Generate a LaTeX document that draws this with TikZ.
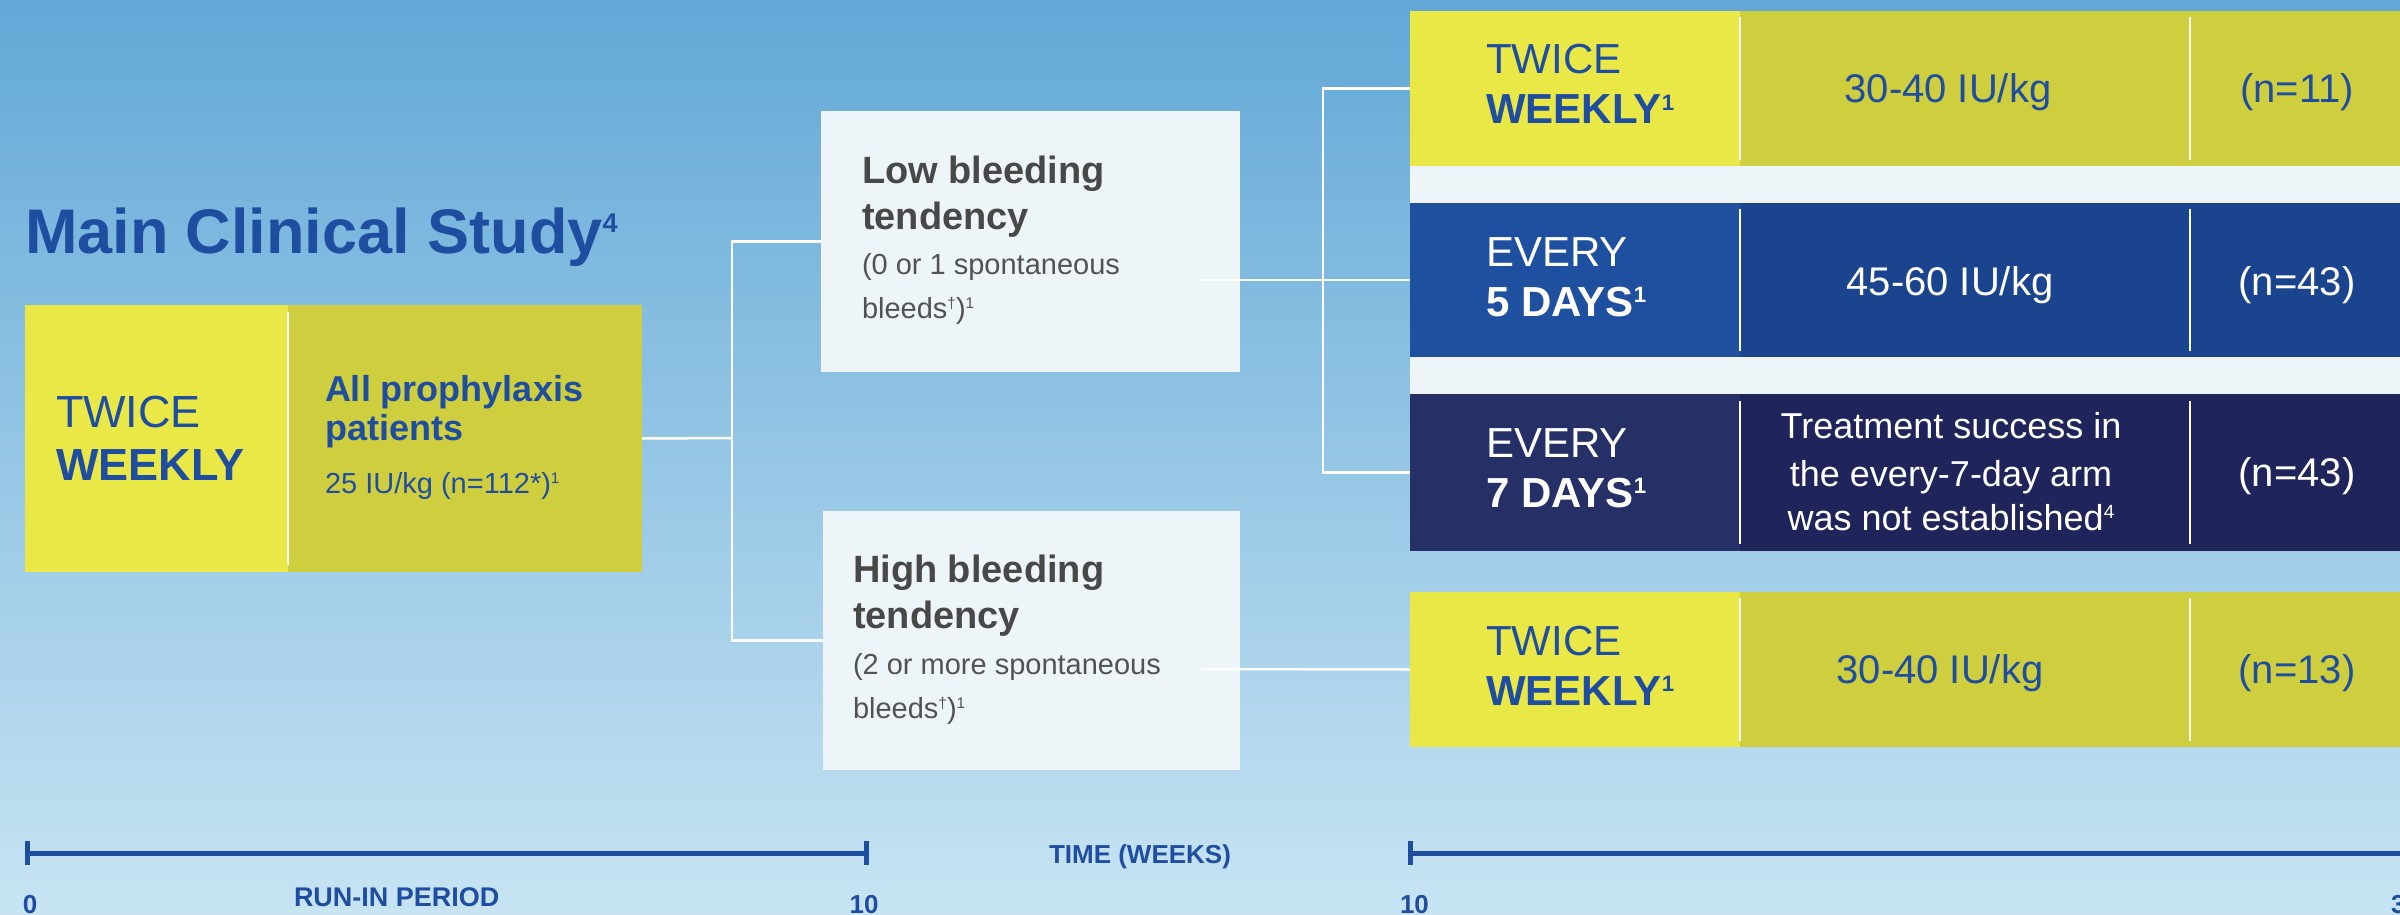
\documentclass[tikz,border=0pt]{standalone}
\usepackage{fontspec}
\setmainfont{Liberation Sans}
\usetikzlibrary{calc}
\definecolor{txtblue}{RGB}{31,78,161}
\definecolor{yel}{RGB}{233,232,70}
\definecolor{olive}{RGB}{207,206,63}
\definecolor{blueA}{RGB}{31,80,160}
\definecolor{blueB}{RGB}{27,68,142}
\definecolor{navyA}{RGB}{36,48,102}
\definecolor{navyB}{RGB}{31,37,90}
\definecolor{panel}{RGB}{237,245,248}
\definecolor{boxlight}{RGB}{238,245,249}
\definecolor{graybold}{RGB}{72,72,72}
\definecolor{grayreg}{RGB}{82,82,82}
\definecolor{bgtop}{RGB}{98,168,215}
\definecolor{bgmid}{RGB}{128,191,228}
\definecolor{bgbot}{RGB}{200,228,243}
\newcommand{\fs}[1]{\fontsize{#1}{#1}\selectfont}
\newcommand{\sups}[1]{\raisebox{0.33em}{\scalebox{0.53}{#1}}}
\newcommand{\supt}[1]{\raisebox{0.33em}{\scalebox{0.43}{#1}}}
\begin{document}
\begin{tikzpicture}[x=1pt,y=-1pt,
  cell/.style={inner sep=0pt, outer sep=0pt, anchor=north west},
  lbl/.style={inner sep=0pt, outer sep=0pt, anchor=base west},
  clbl/.style={inner sep=0pt, outer sep=0pt, anchor=base},
  conn/.style={draw=white, line width=2.5pt},
  divider/.style={draw=white, line width=2pt},
  tline/.style={draw=txtblue, line width=5pt}]
\clip (0,0) rectangle (2400,915);
\shade[top color=bgtop, middle color=bgmid, bottom color=bgbot] (0,0) rectangle (2400,915);

% ---------- title ----------
\node[lbl, text=txtblue, font=\bfseries\fs{63}] (title) at (25,253) {Main Clinical Study\supt{4}};

% ---------- left box ----------
\node[cell, fill=olive, minimum width=617pt, minimum height=267pt] (leftbox) at (25,305) {};
\node[cell, fill=yel, minimum width=263pt, minimum height=267pt] (leftA) at (25,305) {};
\draw[divider] (288,312) -- (288,565);
\node[lbl, text=txtblue, font=\fs{45}] (lt1) at (56,427) {TWICE};
\node[lbl, text=txtblue, font=\bfseries\fs{45}] (lt2) at (56,480) {WEEKLY};
\node[lbl, text=txtblue, font=\bfseries\fs{36}] (lt3) at (325,401) {All prophylaxis};
\node[lbl, text=txtblue, font=\bfseries\fs{36}] (lt4) at (325,440) {patients};
\node[lbl, text=txtblue, font=\fs{29}] (lt5) at (325,493) {25 IU/kg (n=112*)\sups{1}};

% ---------- middle boxes ----------
\node[cell, fill=boxlight, minimum width=419pt, minimum height=261pt] (low) at (821,111) {};
\node[cell, fill=boxlight, minimum width=417pt, minimum height=259pt] (high) at (823,511) {};
\node[lbl, text=graybold, font=\bfseries\fs{38}] (lo1) at (862,183) {Low bleeding};
\node[lbl, text=graybold, font=\bfseries\fs{38}] (lo2) at (862,229) {tendency};
\node[lbl, text=grayreg, font=\fs{29}] (lo3) at (862,274) {(0 or 1 spontaneous};
\node[lbl, text=grayreg, font=\fs{29}] (lo4) at (862,318) {bleeds\sups{\textdagger})\sups{1}};
\node[lbl, text=graybold, font=\bfseries\fs{38}] (hi1) at (853,582) {High bleeding};
\node[lbl, text=graybold, font=\bfseries\fs{38}] (hi2) at (853,628) {tendency};
\node[lbl, text=grayreg, font=\fs{29}] (hi3) at (853,674) {(2 or more spontaneous};
\node[lbl, text=grayreg, font=\fs{29}] (hi4) at (853,718) {bleeds\sups{\textdagger})\sups{1}};

% ---------- right boxes ----------
\node[cell, fill=panel, minimum width=995pt, minimum height=540pt] (panelbg) at (1410,11) {};
% box 1
\node[cell, fill=olive, minimum width=995pt, minimum height=155pt] (b1) at (1410,11) {};
\node[cell, fill=yel, minimum width=330pt, minimum height=155pt] (b1a) at (1410,11) {};
\draw[divider] (1740,17) -- (1740,160);
\draw[divider] (2190,17) -- (2190,160);
% box 2
\node[cell, fill=blueB, minimum width=995pt, minimum height=154pt] (b2) at (1410,203) {};
\node[cell, fill=blueA, minimum width=330pt, minimum height=154pt] (b2a) at (1410,203) {};
\draw[divider] (1740,209) -- (1740,351);
\draw[divider] (2190,209) -- (2190,351);
% box 3
\node[cell, fill=navyB, minimum width=995pt, minimum height=157pt] (b3) at (1410,394) {};
\node[cell, fill=navyA, minimum width=330pt, minimum height=157pt] (b3a) at (1410,394) {};
\draw[divider] (1740,401) -- (1740,544);
\draw[divider] (2190,401) -- (2190,544);
% box 4
\node[cell, fill=olive, minimum width=995pt, minimum height=155pt] (b4) at (1410,592) {};
\node[cell, fill=yel, minimum width=330pt, minimum height=155pt] (b4a) at (1410,592) {};
\draw[divider] (1740,598) -- (1740,741);
\draw[divider] (2190,598) -- (2190,741);

% box texts
\node[lbl, text=txtblue, font=\fs{42}] (r1a) at (1486,74) {TWICE};
\node[lbl, text=txtblue, font=\bfseries\fs{42}] (r1b) at (1486,124) {WEEKLY\sups{1}};
\node[clbl, text=txtblue, font=\fs{40}] (r1c) at (1948,103) {30-40 IU/kg};
\node[clbl, text=txtblue, font=\fs{40}] (r1d) at (2297,103) {(n=11)};

\node[lbl, text=white, font=\fs{42}] (r2a) at (1486,266) {EVERY};
\node[lbl, text=white, font=\bfseries\fs{42}] (r2b) at (1486,316) {5 DAYS\sups{1}};
\node[clbl, text=white, font=\fs{40}] (r2c) at (1950,295) {45-60 IU/kg};
\node[clbl, text=white, font=\fs{40}] (r2d) at (2297,295) {(n=43)};

\node[lbl, text=white, font=\fs{42}] (r3a) at (1486,457) {EVERY};
\node[lbl, text=white, font=\bfseries\fs{42}] (r3b) at (1486,507) {7 DAYS\sups{1}};
\node[clbl, text=white, font=\fs{36}] (r3c) at (1951,438) {Treatment success in};
\node[clbl, text=white, font=\fs{36}] (r3d) at (1951,486) {the every-7-day arm};
\node[clbl, text=white, font=\fs{36}] (r3e) at (1951,530) {was not established\sups{4}};
\node[clbl, text=white, font=\fs{40}] (r3f) at (2297,486) {(n=43)};

\node[lbl, text=txtblue, font=\fs{42}] (r4a) at (1486,655) {TWICE};
\node[lbl, text=txtblue, font=\bfseries\fs{42}] (r4b) at (1486,705) {WEEKLY\sups{1}};
\node[clbl, text=txtblue, font=\fs{40}] (r4c) at (1940,683) {30-40 IU/kg};
\node[clbl, text=txtblue, font=\fs{40}] (r4d) at (2297,683) {(n=13)};

% ---------- connectors ----------
\coordinate (j1) at (732,438);
\draw[conn] (leftbox.east) -- (j1);
\draw[conn] (low.west) -| (j1) |- (high.west);
\coordinate (lowout) at (1201,280);
\coordinate (j2) at (1323,280);
\draw[conn] (lowout) -- (j2);
\draw[conn] (b1.west) -| (j2) |- (b3.west);
\draw[conn] (j2) -- (b2.west);
\coordinate (highout) at (1201,669);
\draw[conn] (highout) -- (b4.west);

% ---------- timeline ----------
\coordinate (t0) at (27,853);
\coordinate (t10) at (866,853);
\coordinate (u10) at (1410,853);
\coordinate (u30) at (2405,853);
\draw[tline] (t0) -- (t10);
\draw[tline] ($(t0)+(0,-12)$) -- ($(t0)+(0,12)$);
\draw[tline] ($(t10)+(0,-12)$) -- ($(t10)+(0,12)$);
\draw[tline] (u10) -- (u30);
\draw[tline] ($(u10)+(0,-12)$) -- ($(u10)+(0,12)$);
\node[lbl, text=txtblue, font=\bfseries\fs{26}] (l0) at (23,913) {0};
\node[lbl, text=txtblue, font=\bfseries\fs{27}] (lrun) at (294,906) {RUN-IN PERIOD};
\node[clbl, text=txtblue, font=\bfseries\fs{26}] (l10a) at (864,913) {10};
\node[lbl, text=txtblue, font=\bfseries\fs{26}] (ltime) at (1049,863) {TIME (WEEKS)};
\node[lbl, text=txtblue, font=\bfseries\fs{26}] (l10b) at (1400,913) {10};
\node[lbl, text=txtblue, font=\bfseries\fs{26}] (l30) at (2391,913) {30};
\end{tikzpicture}
\end{document}
